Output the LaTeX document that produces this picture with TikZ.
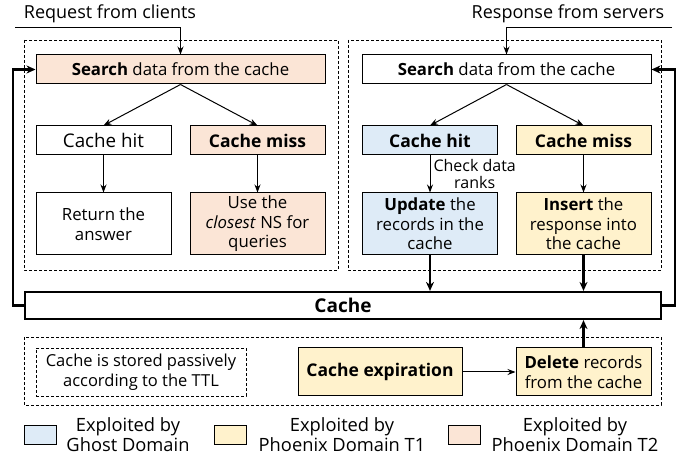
\documentclass[tikz,border=0pt]{standalone}
\usepackage{fontspec}
\setmainfont{Open Sans}
\usetikzlibrary{arrows.meta}
\definecolor{tone}{HTML}{FBE5D6}
\definecolor{ttwo}{HTML}{FFF2CC}
\definecolor{ghost}{HTML}{DEEBF7}
\newcommand{\fsz}[2]{\fontsize{#1}{#2}\selectfont}
\begin{document}
\begin{tikzpicture}[x=1pt,y=-1pt,
    box/.style={draw, line width=1pt, inner sep=0pt, align=center,
        minimum width=135pt, minimum height=29pt, font=\fsz{16.8}{19.5}},
    tall/.style={box, minimum height=62pt},
    big/.style={font=\fsz{18.3}{20}},
    group/.style={draw, dashed, dash pattern=on 3pt off 2pt, line width=0.8pt},
    swatch/.style={draw, line width=1pt, minimum width=32pt, minimum height=18pt, inner sep=0pt},
    flow/.style={-{Stealth[length=8pt,width=6pt]}, line width=1pt},
    loop/.style={-{Stealth[length=9pt,width=8pt]}, line width=2.4pt}]
    \useasboundingbox (0,0) rectangle (689,457);
    \draw[group] (24,40) rectangle (338,270);
    \draw[group] (348,40) rectangle (661,270);
    \draw[group] (24,337) rectangle (661,405);
    \node[font=\fsz{18}{20}] (reqtxt) at (110,14) {Request from clients};
    \node[font=\fsz{18}{20}] (resptxt) at (568,14) {Response from servers};
    \coordinate (reqin) at (15,28);
    \coordinate (respin) at (672,28);
    % client side
    \node[box, fill=tone, minimum width=289pt] (lsearch) at (180.5,69.5) {\textbf{Search} data from the cache};
    \node[box, font=\fsz{18.8}{20}] (lhit) at (103.5,140.5) {Cache hit};
    \node[box, fill=tone, font=\fsz{17.5}{20}] (lmiss) at (257.5,140.5) {\textbf{Cache miss}};
    \node[tall] (lret) at (103.5,224) {Return the\\answer};
    \node[tall, fill=tone] (lns) at (257.5,224) {Use the\\\textit{closest} NS for\\queries};
    % server side
    \node[box, minimum width=289pt] (rsearch) at (506.5,69.5) {\textbf{Search} data from the cache};
    \node[box, fill=ghost, font=\fsz{17.5}{20}] (rhit) at (430,140.5) {\textbf{Cache hit}};
    \node[box, fill=ttwo, font=\fsz{17.5}{20}] (rmiss) at (583.5,140.5) {\textbf{Cache miss}};
    \node[tall, fill=ghost] (rupd) at (430,224) {\textbf{Update} the\\records in the\\cache};
    \node[tall, fill=ttwo] (rins) at (583.5,224) {\textbf{Insert} the\\response into\\the cache};
    \node[box, line width=2.2pt, minimum width=636pt, minimum height=27pt, font=\fsz{19}{20}] (cache) at (343,305.5) {\textbf{Cache}};
    % expiry
    \node[box, group, minimum width=210pt, minimum height=48pt, font=\fsz{16.5}{19.5}] (passive) at (141,372) {Cache is stored passively\\according to the TTL};
    \node[box, fill=ttwo, minimum width=164pt, minimum height=48pt, font=\fsz{17.5}{20}] (expire) at (380,372) {\textbf{Cache expiration}};
    \node[box, fill=ttwo, minimum height=48pt] (delete) at (583.5,372) {\textbf{Delete} records\\from the cache};
    % legend
    \node[swatch, fill=ghost] (kghost) at (40,435) {};
    \node[swatch, fill=ttwo] (kone) at (230,435) {};
    \node[swatch, fill=tone] (ktwo) at (464.5,435) {};
    \node[align=center, big] (tghost) at (128,435) {Exploited by\\Ghost Domain};
    \node[align=center, big] (tone) at (342,435) {Exploited by\\Phoenix Domain T1};
    \node[align=center, big] (ttwo) at (575,435) {Exploited by\\Phoenix Domain T2};
    % connectors
    \draw[flow] (reqin) -| (lsearch.north);
    \draw[flow] (respin) -| (rsearch.north);
    \draw[flow] (lsearch.south) -- (lhit.north);
    \draw[flow] (lsearch.south) -- (lmiss.north);
    \draw[flow] (lhit) -- (lret);
    \draw[flow] (lmiss) -- (lns);
    \draw[flow] (rsearch.south) -- (rhit.north);
    \draw[flow] (rsearch.south) -- (rmiss.north);
    \draw[flow] (rhit) -- node[right, align=center, inner sep=3pt, font=\fsz{16}{16.5}] {Check data\\ranks} (rupd);
    \draw[flow] (rmiss) -- (rins);
    \draw[flow] (expire) -- (delete);
    \draw[loop] (rupd) -- (rupd |- cache.north);
    \draw[loop] (rins) -- (rins |- cache.north);
    \draw[loop] (delete) -- (delete |- cache.south);
    \draw[loop] (cache.west) -- ++(-11,0) |- (lsearch.west);
    \draw[loop] (cache.east) -- ++(13,0) |- (rsearch.east);
\end{tikzpicture}
\end{document}
